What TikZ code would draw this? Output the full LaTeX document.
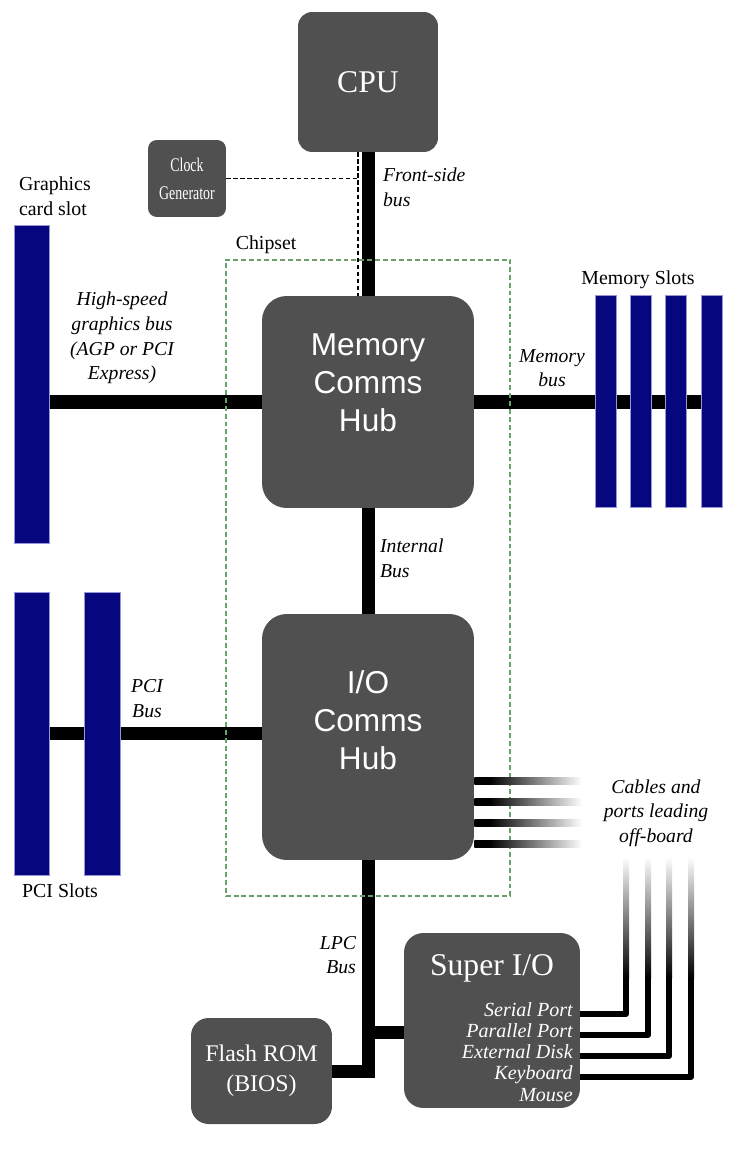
\documentclass[tikz,border=0pt]{standalone}
\usepackage{fontspec}
\setmainfont{Liberation Serif}
\newfontfamily\hubfont{Liberation Sans}
\newfontfamily\clkfont[FakeStretch=0.72]{Liberation Serif}
\usetikzlibrary{positioning, fit, backgrounds, calc}
\definecolor{boxgray}{RGB}{80,80,80}
\definecolor{slotblue}{RGB}{6,6,126}
\definecolor{slotedge}{RGB}{150,150,215}
\definecolor{chipgreen}{RGB}{105,160,105}
\pgfdeclarehorizontalshading{cablefade}{100bp}{color(0bp)=(black); color(32bp)=(black); color(75bp)=(white); color(100bp)=(white)}
\pgfdeclareverticalshading{portfade}{100bp}{color(0bp)=(black); color(25bp)=(black); color(75bp)=(white); color(100bp)=(white)}
\tikzset{
    hubbox/.style={fill=boxgray, rounded corners=14pt, inner sep=0pt, minimum width=4.24cm},
    hubtext/.style={text=white, align=center, inner sep=0pt, font=\hubfont\fontsize{18}{21.5}\selectfont},
    chipbox/.style={fill=boxgray, text=white, rounded corners=8pt, align=center, inner sep=0pt, font=\fontsize{18}{21.5}\selectfont},
    clkbox/.style={fill=boxgray, text=white, rounded corners=5pt, align=center, inner sep=0pt, minimum width=1.56cm, minimum height=1.54cm, font=\clkfont\fontsize{11}{16}\selectfont},
    portlist/.style={text=white, align=right, inner sep=0pt, font=\itshape\fontsize{11.4}{12}\selectfont},
    slot/.style={fill=slotblue, draw=slotedge, line width=0.3pt, inner sep=0pt},
    chipset/.style={draw=chipgreen, line width=1.1pt, dash pattern=on 2.8pt off 1.7pt},
    tag/.style={font=\fontsize{11.3}{14}\selectfont, align=left, inner sep=1pt},
    buslbl/.style={font=\itshape\fontsize{11.2}{14}\selectfont, align=center, inner sep=1pt},
}

\begin{document}
\begin{tikzpicture}[
        x=0.02cm, y=-0.02cm,
        bus/.style={line width=7.4pt},
        wire/.style={line width=3.4pt, line join=round},
        clkwire/.style={line width=0.9pt, dash pattern=on 2.5pt off 1.5pt},
    ]
    \useasboundingbox (0,0) rectangle (750,1158);
    \node[chipbox, minimum width=2.8cm, minimum height=2.8cm] (cpu) at (368,82) {CPU};
    \node[clkbox] (clk) at (187,178.5) {Clock\\Generator};
    \node[hubbox, minimum height=4.24cm] (mch) at (368,402) {};
    \node[hubtext] (mcht) at (368,383) {Memory\\Comms\\Hub};
    \node[hubbox, minimum height=4.92cm] (ioh) at (368,737) {};
    \node[hubtext] (ioht) at (368,720) {I/O\\Comms\\Hub};
    \node[chipbox, minimum width=2.82cm, minimum height=2.12cm, rounded corners=10pt, font=\fontsize{13.6}{17}\selectfont] (flash) at (261.5,1071) {Flash ROM\\(BIOS)};
    \node[chipbox, minimum width=3.52cm, minimum height=3.5cm, rounded corners=11pt] (sio) at (492,1020.5) {};
    \node[chipbox, fill=none] (siot) at (492,968) {Super I/O};
    \node[portlist, anchor=east] (siol) at (573,1052) {Serial Port\\Parallel Port\\External Disk\\Keyboard\\Mouse};
    \node[slot, minimum width=0.7cm, minimum height=6.36cm] (gfx) at (31.5,384) {};
    \foreach \i/\x in {1/605.5, 2/640.5, 3/676, 4/711.5}
        \node[slot, minimum width=0.42cm, minimum height=4.24cm] (mem\i) at (\x,401) {};
    \node[slot, minimum width=0.7cm, minimum height=5.66cm] (pci1) at (31.5,733.5) {};
    \node[slot, minimum width=0.72cm, minimum height=5.66cm] (pci2) at (102,733.5) {};
    \node[chipset, fit=(mch)(ioh), inner sep=0.72cm] (chip) {};
    \node[tag, anchor=south west] (chipl) at ($(chip.north west)+(9,-3)$) {Chipset};
    \node[tag, anchor=west] (gfxl) at (17,196.5) {Graphics\\card slot};
    \node[tag] (meml) at (638,280) {Memory Slots};
    \node[tag] (pcil) at (60,891) {PCI Slots};
    \node[buslbl, anchor=west, align=left] (fsbl) at (381,187) {Front-side\\bus};
    \node[buslbl] (agpl) at (122,338) {High-speed\\graphics bus\\(AGP or PCI\\Express)};
    \node[buslbl] (membl) at (552,368) {Memory\\bus};
    \node[buslbl, anchor=west, align=left] (intl) at (378,558.5) {Internal\\Bus};
    \node[buslbl] (pcibl) at (147,698.5) {PCI\\Bus};
    \node[buslbl, anchor=east, align=right] (lpcl) at (358,955) {LPC\\Bus};
    \node[buslbl] (cabl) at (656,813) {Cables and\\ports leading\\off-board};
    \begin{scope}[on background layer]
        \draw[bus] (cpu) -- (mch);
        \draw[bus] (mch) -- (ioh);
        \draw[bus] (gfx.east |- mch) -- (mch);
        \draw[bus] (mch) -- (mch -| mem4.west);
        \draw[bus] (pci1) -- (pci1 -| ioh.west);
        \draw[bus] (ioh) |- (flash);
        \draw[bus] (sio.west |- 0,1032) -- (ioh.south |- 0,1032);
    \end{scope}
    \coordinate (tap) at ($(cpu.south)+(-10,0)$);
    \draw[clkwire] (tap) -- (tap |- mch.north);
    \draw[clkwire] (clk) -- (clk -| tap);
    \foreach \y in {781,802,823,844} {
        \coordinate (cab\y) at (582,\y);
        \shade[shading=cablefade] ($(ioh.east |- cab\y)+(0,-3.5)$) rectangle ($(cab\y)+(0,3.5)$);
    }
    \foreach \i/\x/\y in {1/626/1014, 2/648/1035, 3/669/1056, 4/691/1077} {
        \coordinate (port\i) at (\x,857);
        \draw[wire] (sio.east |- 0,\y) -| ($(port\i)+(0,121)$);
        \shade[shading=portfade] ($(port\i)+(-3,0)$) rectangle ($(port\i)+(3,121)$);
    }
\end{tikzpicture}
\end{document}
